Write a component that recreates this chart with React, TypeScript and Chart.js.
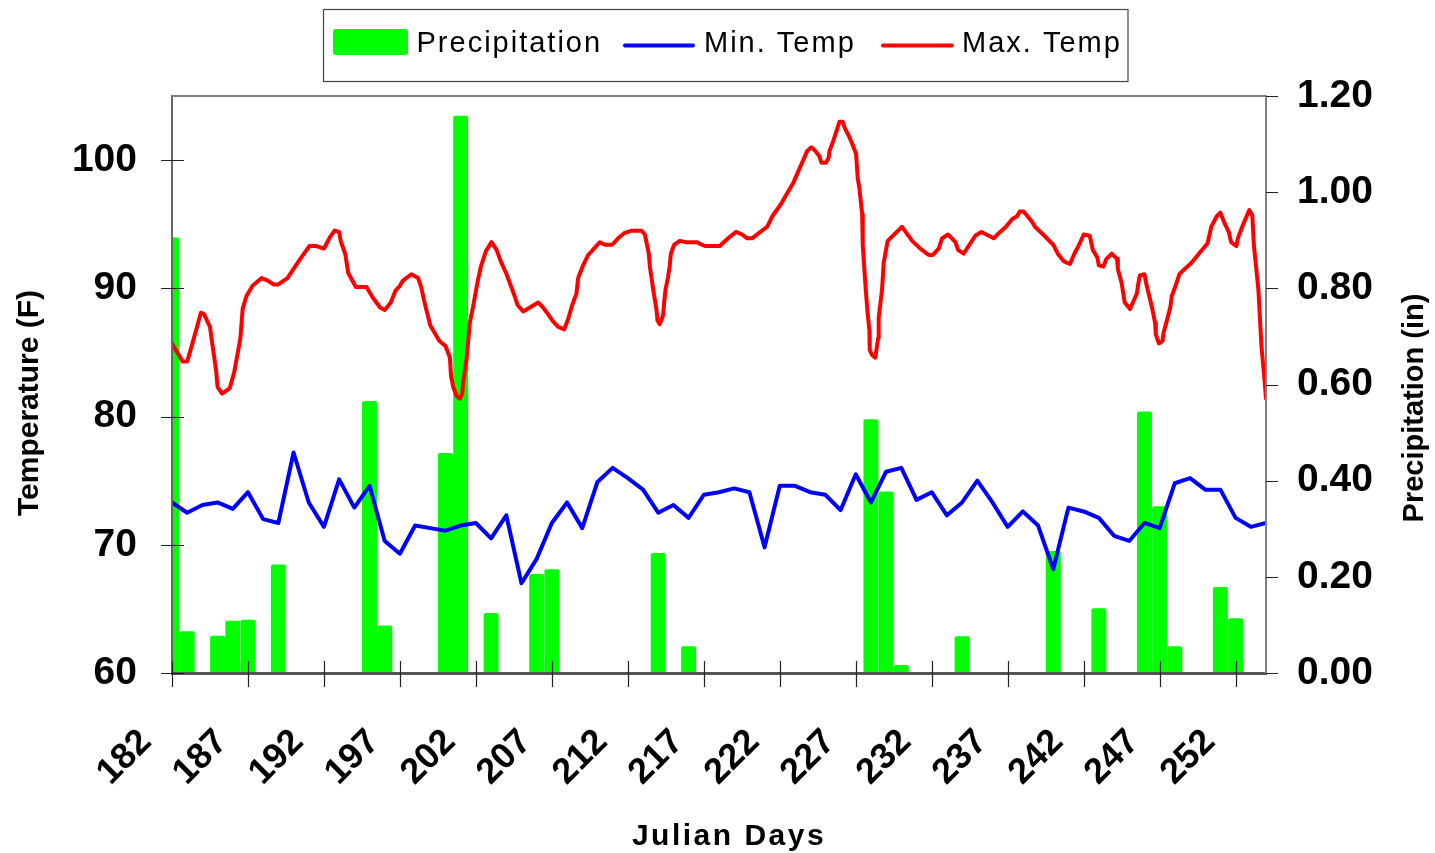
import React, { useEffect, useRef } from 'react';
import { Chart, registerables } from 'chart.js';

Chart.register(...registerables);

const FONT = "'Liberation Sans', Arial, Helvetica, sans-serif";

// ---------- data ----------
const dayTicks = [182, 187, 192, 197, 202, 207, 212, 217, 222, 227, 232, 237, 242, 247, 252];
const tempTicks = [60, 70, 80, 90, 100];
const precipTicks = [0, 0.2, 0.4, 0.6, 0.8, 1.0, 1.2];

const precipDays = [182, 183, 185, 186, 187, 189, 195, 196, 200, 201, 203, 206, 207, 214, 216, 228, 229, 230, 234, 240, 243, 246, 247, 248, 251, 252];
const precipValues = [0.905, 0.086, 0.077, 0.108, 0.11, 0.225, 0.565, 0.098, 0.457, 1.158, 0.124, 0.205, 0.215, 0.249, 0.055, 0.527, 0.377, 0.016, 0.076, 0.253, 0.134, 0.543, 0.346, 0.055, 0.178, 0.113];

const minTempDays = [182, 183, 184, 185, 186, 187, 188, 189, 190, 191, 192, 193, 194, 195, 196, 197, 198, 199, 200, 201, 202, 203, 204, 205, 206, 207, 208, 209, 210, 211, 212, 213, 214, 215, 216, 217, 218, 219, 220, 221, 222, 223, 224, 225, 226, 227, 228, 229, 230, 231, 232, 233, 234, 235, 236, 237, 238, 239, 240, 241, 242, 243, 244, 245, 246, 247, 248, 249, 250, 251, 252, 253, 254];
const minTempValues = [73.3, 72.5, 73.1, 73.3, 72.8, 74.1, 72.0, 71.7, 77.2, 73.3, 71.4, 75.1, 72.9, 74.6, 70.3, 69.3, 71.5, 71.3, 71.1, 71.5, 71.7, 70.5, 72.3, 67.0, 68.9, 71.7, 73.3, 71.3, 74.9, 76.0, 75.2, 74.3, 72.5, 73.1, 72.1, 73.9, 74.1, 74.4, 74.1, 69.8, 74.6, 74.6, 74.1, 73.9, 72.7, 75.5, 73.3, 75.7, 76.0, 73.5, 74.1, 72.3, 73.3, 75.0, 73.3, 71.4, 72.6, 71.5, 68.1, 72.9, 72.6, 72.1, 70.7, 70.3, 71.7, 71.3, 74.8, 75.2, 74.3, 74.3, 72.1, 71.4, 71.7];

const maxTempDays = [
  182.0, 182.7, 183.0, 183.2, 183.65, 183.9, 184.1, 184.5, 184.6, 184.9, 185.0, 185.3, 185.8, 186.1, 186.5, 186.65, 186.9, 187.3, 187.9, 188.3, 188.7, 189.0, 189.6, 190.1, 190.5, 191.05, 191.5, 192.0, 192.4, 192.7, 193.0, 193.1, 193.4, 193.6, 194.1, 194.8, 195.2, 195.7, 196.0, 196.4, 196.7, 197.0, 197.2, 197.75, 198.2, 198.4, 198.6, 199.0, 199.3, 199.6, 200.0,
  200.29, 200.36, 200.51, 200.73, 200.95, 201.1, 201.17, 201.39, 201.6, 201.82, 202.11, 202.33, 202.66, 203.03, 203.36, 203.64, 204.02, 204.24, 204.52, 204.74, 205.11, 205.55, 206.1, 206.43, 206.8, 207.09, 207.42, 207.81, 208.07, 208.34, 208.62, 208.73, 209.06, 209.39, 210.16, 210.49, 210.97, 211.36, 211.76, 212.24, 212.9, 213.12, 213.38, 213.45, 213.67, 213.89, 213.95, 214.1, 214.32, 214.39, 214.48, 214.65, 214.76, 214.83, 215.05, 215.42, 215.86, 216.52, 217.07, 218.05,
  218.69, 219.13, 219.52, 219.85, 220.18, 220.62, 221.17, 221.5, 222.04, 222.48, 222.92, 223.21, 223.58, 223.8, 224.08, 224.35, 224.61, 224.74, 225.05, 225.22, 225.27, 225.55, 225.77, 225.93, 226.14, 226.28, 226.54, 226.76, 227.02, 227.13, 227.24, 227.42, 227.46, 227.64, 227.77, 227.9, 227.92, 228.07, 228.29, 228.47, 228.51, 228.73, 228.84, 229.1, 230.05, 230.71, 231.25, 231.8, 232.07, 232.46, 232.68, 233.07, 233.56, 233.73, 234.1, 234.43, 234.87, 235.27, 235.75, 236.08, 236.41, 236.89,
  237.3, 237.6, 237.8, 238.05, 238.6, 238.8, 239.5, 240.0, 240.3, 240.7, 241.1, 241.35, 241.7, 242.0, 242.4, 242.6, 242.9, 243.0, 243.3, 243.5, 243.85, 244.2, 244.25, 244.5, 244.7, 245.05, 245.2, 245.5, 245.6, 245.7, 246.0, 246.15, 246.5, 246.7, 246.75, 246.95, 247.2, 247.25, 247.5, 247.7, 247.8, 248.05, 248.3, 248.55, 249.1, 249.65, 250.15, 250.4, 250.75, 251.0, 251.3, 251.55, 251.7, 252.05, 252.15, 252.5, 252.9, 253.1, 253.2, 253.5, 253.7, 253.9, 254.0
];
const maxTempValues = [
  85.7, 84.3, 84.3, 85.1, 87.0, 88.1, 88.0, 87.0, 86.1, 83.6, 82.3, 81.8, 82.2, 83.5, 86.1, 88.4, 89.4, 90.2, 90.8, 90.6, 90.3, 90.3, 90.8, 91.7, 92.4, 93.3, 93.3, 93.1, 94.0, 94.5, 94.4, 93.7, 92.7, 91.2, 90.1, 90.1, 89.3, 88.5, 88.3, 88.9, 89.8, 90.2, 90.6, 91.1, 90.8, 90.1, 89.0, 87.1, 86.5, 85.9, 85.5,
  84.6, 83.2, 82.3, 81.6, 81.4, 81.8, 82.7, 84.5, 87.3, 88.6, 90.5, 91.7, 92.9, 93.6, 93.0, 92.1, 91.1, 90.4, 89.5, 88.7, 88.2, 88.5, 88.9, 88.5, 87.9, 87.4, 87.0, 86.8, 87.6, 88.7, 89.6, 90.8, 91.8, 92.6, 93.6, 93.4, 93.4, 93.9, 94.3, 94.5, 94.5, 94.2, 92.7, 91.7, 89.9, 88.3, 87.5, 87.2, 87.9, 88.9, 89.9, 90.9, 91.8, 92.7, 93.4, 93.7, 93.6, 93.6, 93.3, 93.3,
  94.0, 94.4, 94.2, 93.9, 93.9, 94.3, 94.8, 95.6, 96.5, 97.4, 98.3, 99.1, 100.1, 100.7, 101.0, 100.7, 100.3, 99.8, 99.8, 100.2, 100.7, 101.6, 102.4, 103.0, 103.0, 102.5, 101.9, 101.3, 100.5, 98.6, 97.8, 95.8, 93.4, 90.2, 88.2, 86.7, 85.2, 84.8, 84.6, 86.1, 87.7, 89.9, 92.0, 93.7, 94.8, 93.7, 93.1, 92.6, 92.6, 93.1, 93.9, 94.2, 93.6, 93.0, 92.7, 93.3, 94.1, 94.4, 94.1, 93.9, 94.3, 94.8,
  95.4, 95.6, 96.0, 96.0, 95.2, 94.8, 94.0, 93.4, 92.7, 92.1, 91.9, 92.6, 93.4, 94.2, 94.1, 93.0, 92.4, 91.8, 91.7, 92.3, 92.7, 92.3, 91.5, 90.4, 88.9, 88.4, 88.8, 89.6, 90.4, 91.0, 91.1, 90.2, 88.5, 87.3, 86.4, 85.7, 85.9, 86.5, 87.6, 88.5, 89.4, 90.2, 91.1, 91.4, 92.0, 92.8, 93.5, 94.8, 95.6, 95.9, 95.0, 94.4, 93.6, 93.3, 93.9, 95.0, 96.1, 95.7, 93.4, 89.9, 85.5, 82.9, 81.4
];

const legendLabels = ['Precipitation', 'Min. Temp', 'Max. Temp'];
const seriesColors = ['#00FF00', '#0000FF', '#FF0000'];

// ---------- decoration plugin (frame top, crossing ticks, titles, legend) ----------
const decorPlugin = {
  id: 'decor',
  afterDraw(chart: any) {
    const { ctx, chartArea: a, scales } = chart;
    ctx.save();
    // top frame line
    ctx.strokeStyle = '#808080';
    ctx.lineWidth = 2;
    ctx.beginPath();
    ctx.moveTo(a.left, a.top);
    ctx.lineTo(a.right + 1, a.top);
    ctx.stroke();

    // tick marks
    ctx.strokeStyle = '#222';
    ctx.lineWidth = 1.2;
    ctx.beginPath();
    const sx = scales.x;
    sx.ticks.forEach((t: any) => {
      const p = Math.round(sx.getPixelForValue(t.value)) + 0.5;
      ctx.moveTo(p, a.bottom - 12);
      ctx.lineTo(p, a.bottom + 14);
    });
    const sy = scales.y;
    sy.ticks.forEach((t: any) => {
      const p = Math.round(sy.getPixelForValue(t.value)) + 0.5;
      ctx.moveTo(a.left - 11, p);
      ctx.lineTo(a.left + 12, p);
    });
    const sy1 = scales.y1;
    sy1.ticks.forEach((t: any) => {
      const p = Math.round(sy1.getPixelForValue(t.value)) + 0.5;
      ctx.moveTo(a.right, p);
      ctx.lineTo(a.right + 12, p);
    });
    ctx.stroke();

    // axis titles
    ctx.fillStyle = '#000';
    ctx.textAlign = 'center';
    ctx.textBaseline = 'alphabetic';
    ctx.font = `bold 30px ${FONT}`;
    ctx.save();
    ctx.translate(38, 403);
    ctx.rotate(-Math.PI / 2);
    ctx.fillText('Temperature (F)', 0, 0);
    ctx.restore();
    ctx.save();
    ctx.font = `bold 29px ${FONT}`;
    ctx.translate(1423, 408);
    ctx.rotate(-Math.PI / 2);
    ctx.fillText('Precipitation (in)', 0, 0);
    ctx.restore();
    ctx.font = `bold 30px ${FONT}`;
    (ctx as any).letterSpacing = '2.5px';
    ctx.fillText('Julian Days', 729, 845);

    // legend
    (ctx as any).letterSpacing = '2px';
    ctx.font = `29px ${FONT}`;
    ctx.textAlign = 'left';
    const textX = [416.5, 704, 962];
    let rightEdge = 1128;
    legendLabels.forEach((lab, i) => {
      const w = ctx.measureText(lab).width;
      rightEdge = Math.max(rightEdge, textX[i] + w + 2);
    });
    ctx.strokeStyle = '#444';
    ctx.lineWidth = 1.2;
    ctx.strokeRect(323.5, 9.5, rightEdge - 323.5, 72);
    // precipitation swatch
    ctx.fillStyle = seriesColors[0];
    ctx.beginPath();
    if ((ctx as any).roundRect) (ctx as any).roundRect(333, 29, 75, 26, 3);
    else ctx.rect(333, 29, 75, 26);
    ctx.fill();
    // line swatches
    ctx.lineCap = 'round';
    ctx.lineWidth = 4;
    ctx.strokeStyle = seriesColors[1];
    ctx.beginPath();
    ctx.moveTo(625, 45.5);
    ctx.lineTo(693, 45.5);
    ctx.stroke();
    ctx.strokeStyle = seriesColors[2];
    ctx.beginPath();
    ctx.moveTo(883, 45.5);
    ctx.lineTo(952, 45.5);
    ctx.stroke();
    ctx.fillStyle = '#000';
    legendLabels.forEach((lab, i) => ctx.fillText(lab, textX[i], 52));
    (ctx as any).letterSpacing = '0px';
    ctx.restore();
  },
};

export default function App() {
  const ref = useRef<HTMLCanvasElement | null>(null);

  useEffect(() => {
    const canvas = ref.current;
    if (!canvas) return;

    const tickFont = { family: FONT, size: 39, weight: 'bold' as const };

    const chart = new Chart(canvas, {
      type: 'bar',
      data: {
        datasets: [
          {
            type: 'bar',
            label: legendLabels[0],
            data: precipDays.map((d, i) => ({ x: d, y: precipValues[i] })),
            backgroundColor: seriesColors[0],
            borderWidth: 0,
            barThickness: 14.3,
            borderRadius: { topLeft: 2, topRight: 2, bottomLeft: 0, bottomRight: 0 },
            borderSkipped: 'bottom',
            yAxisID: 'y1',
            order: 3,
          } as any,
          {
            type: 'line',
            label: legendLabels[1],
            data: minTempDays.map((d, i) => ({ x: d, y: minTempValues[i] })),
            borderColor: seriesColors[1],
            backgroundColor: seriesColors[1],
            borderWidth: 4,
            pointRadius: 0,
            tension: 0,
            borderJoinStyle: 'round',
            borderCapStyle: 'round',
            yAxisID: 'y',
            order: 2,
          } as any,
          {
            type: 'line',
            label: legendLabels[2],
            data: maxTempDays.map((d, i) => ({ x: d, y: maxTempValues[i] })),
            borderColor: seriesColors[2],
            backgroundColor: seriesColors[2],
            borderWidth: 4,
            pointRadius: 0,
            tension: 0,
            borderJoinStyle: 'round',
            borderCapStyle: 'round',
            yAxisID: 'y',
            order: 1,
          } as any,
        ],
      },
      options: {
        animation: false,
        responsive: false,
        devicePixelRatio: 1,
        layout: { padding: { top: 96, left: 0, right: 0, bottom: 0 } },
        plugins: {
          legend: { display: false },
          tooltip: { enabled: false },
        },
        scales: {
          x: {
            type: 'linear',
            min: 182,
            max: 254,
            offset: false,
            grid: { display: false, drawTicks: false },
            border: { display: true, color: '#555', width: 3, z: 1 },
            afterBuildTicks: (s: any) => {
              s.ticks = dayTicks.map((v) => ({ value: v }));
            },
            afterFit: (s: any) => {
              s.height = 180;
            },
            ticks: {
              autoSkip: false,
              minRotation: 45,
              maxRotation: 45,
              padding: 48,
              labelOffset: -26,
              color: '#000',
              font: { family: FONT, size: 36, weight: 'bold' },
              callback: (v: any) => String(v),
            },
          },
          y: {
            type: 'linear',
            position: 'left',
            min: 60,
            max: 105,
            grid: { display: false, drawTicks: false },
            border: { display: true, color: '#666', width: 2, z: 1 },
            afterBuildTicks: (s: any) => {
              s.ticks = tempTicks.map((v) => ({ value: v }));
            },
            afterFit: (s: any) => {
              s.width = 172;
            },
            ticks: {
              padding: 35,
              color: '#000',
              font: tickFont,
              callback: (v: any) => String(v),
            },
          },
          y1: {
            type: 'linear',
            position: 'right',
            min: 0,
            max: 1.2,
            grid: { display: false, drawTicks: false },
            border: { display: true, color: '#808080', width: 2, z: 1 },
            afterBuildTicks: (s: any) => {
              s.ticks = precipTicks.map((v) => ({ value: v }));
            },
            afterFit: (s: any) => {
              s.width = 169;
            },
            ticks: {
              padding: 31,
              color: '#000',
              font: tickFont,
              callback: (v: any) => Number(v).toFixed(2),
            },
          },
        },
      } as any,
      plugins: [decorPlugin],
    });

    return () => chart.destroy();
  }, []);

  return (
    <div style={{ position: 'absolute', left: 0, top: 0, width: 1435, height: 853, background: '#fff' }}>
      <canvas ref={ref} width={1435} height={853} style={{ width: '1435px', height: '853px', display: 'block' }} />
    </div>
  );
}
